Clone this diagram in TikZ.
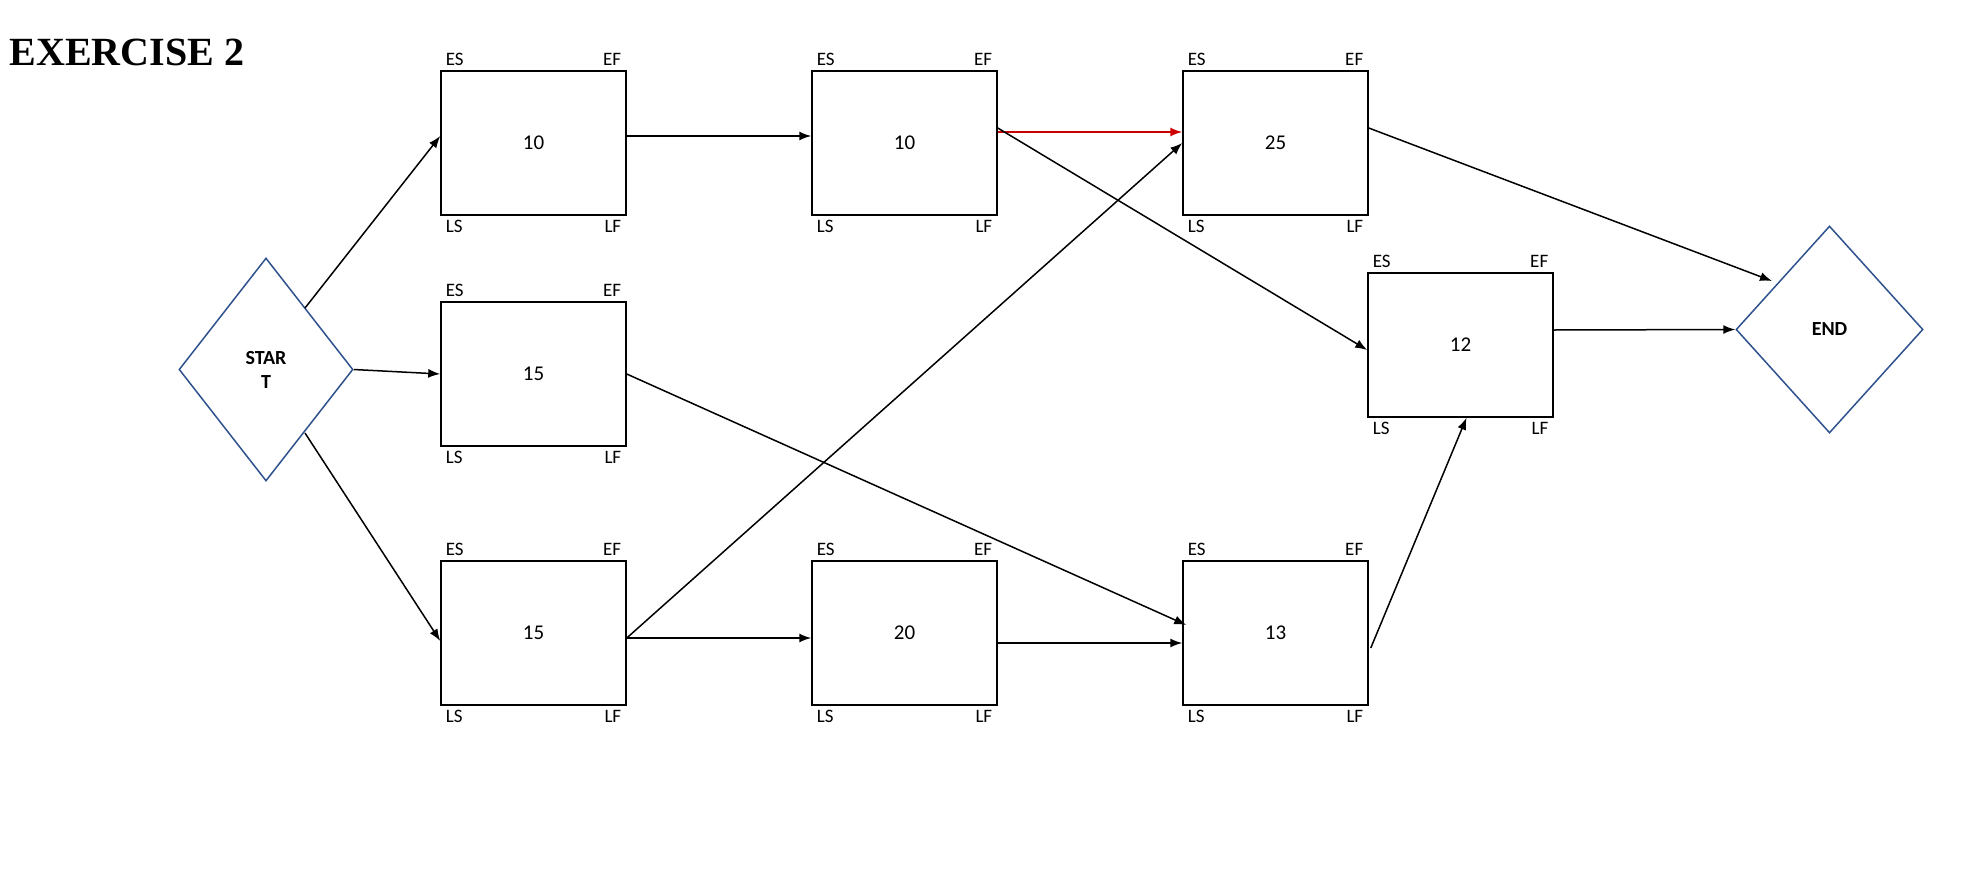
\documentclass[tikz,border=0pt]{standalone}
\usepackage{fontspec}
\setmainfont{Carlito}
\newfontfamily\titlefont{Liberation Serif}
\usetikzlibrary{shapes.geometric,arrows.meta}
\definecolor{dblue}{RGB}{47,82,143}
\begin{document}
\begin{tikzpicture}[x=1pt,y=-1pt,
  act/.style={draw,line width=1.5pt,minimum width=185pt,minimum height=144pt,inner sep=0pt,font=\fontsize{21}{24}\selectfont},
  dia/.style={draw=dblue,line width=1.5pt,diamond,inner sep=0pt,font=\bfseries\fontsize{20}{24}\selectfont,align=center},
  lab/.style={font=\fontsize{19}{22}\selectfont},
  con/.style={line width=1.5pt,-{Latex[length=12pt,width=9pt]}}]
\useasboundingbox (0,0) rectangle (1980,886);
\node[font=\titlefont\bfseries\fontsize{40}{44}\selectfont,anchor=west] (title) at (6,52) {EXERCISE 2};
\newcommand\act[4]{\node[act] (#1) at (#2,#3) {#4};
  \node[lab,anchor=south west] at ([xshift=2pt,yshift=1pt]#1.north west) {ES};
  \node[lab,anchor=south east] at ([xshift=-2pt,yshift=1pt]#1.north east) {EF};
  \node[lab,anchor=north west] at ([xshift=2pt,yshift=-1pt]#1.south west) {LS};
  \node[lab,anchor=north east] at ([xshift=-2pt,yshift=-1pt]#1.south east) {LF};}
\act{a}{533.5}{143}{10}
\act{b}{904.5}{143}{10}
\act{c}{1275.5}{143}{25}
\act{d}{533.5}{374}{15}
\act{e}{533.5}{633}{15}
\act{f}{904.5}{633}{20}
\act{g}{1275.5}{633}{13}
\act{h}{1460.5}{345}{12}
\node[dia,minimum width=174pt,minimum height=223pt] (s) at (266,369.5) {STAR\\T};
\node[dia,minimum width=187pt,minimum height=207pt] (t) at (1829.5,329.5) {END};
\coordinate (s1) at (305,308); \coordinate (s3) at (305,433);
\draw[con] (s1) -- ([yshift=7pt]a.west);
\draw[con] (s.east) -- (d.west);
\draw[con] (s3) -- ([yshift=-8pt]e.west);
\draw[con] ([yshift=7pt]a.east) -- ([yshift=7pt]b.west);
\draw[con,red!80!black] ([yshift=11pt]b.east) -- ([yshift=11pt]c.west);
\draw[con] ([yshift=15pt]b.east) -- ([yshift=-5pt]h.west);
\draw[con] ([yshift=15pt]c.east) -- (1772,281);
\draw[con] (d.east) -- ([xshift=4pt,yshift=8pt]g.west);
\draw[con] ([yshift=-5pt]e.east) -- (c.west);
\draw[con] ([yshift=-5pt]e.east) -- ([yshift=-5pt]f.west);
\draw[con] ([yshift=-10pt]f.east) -- ([yshift=-10pt]g.west);
\draw[con] ([xshift=2pt,yshift=-15pt]g.east) -- ([xshift=6pt]h.south);
\draw[con] ([yshift=15pt]h.east) -- (t.west);
\end{tikzpicture}
\end{document}
